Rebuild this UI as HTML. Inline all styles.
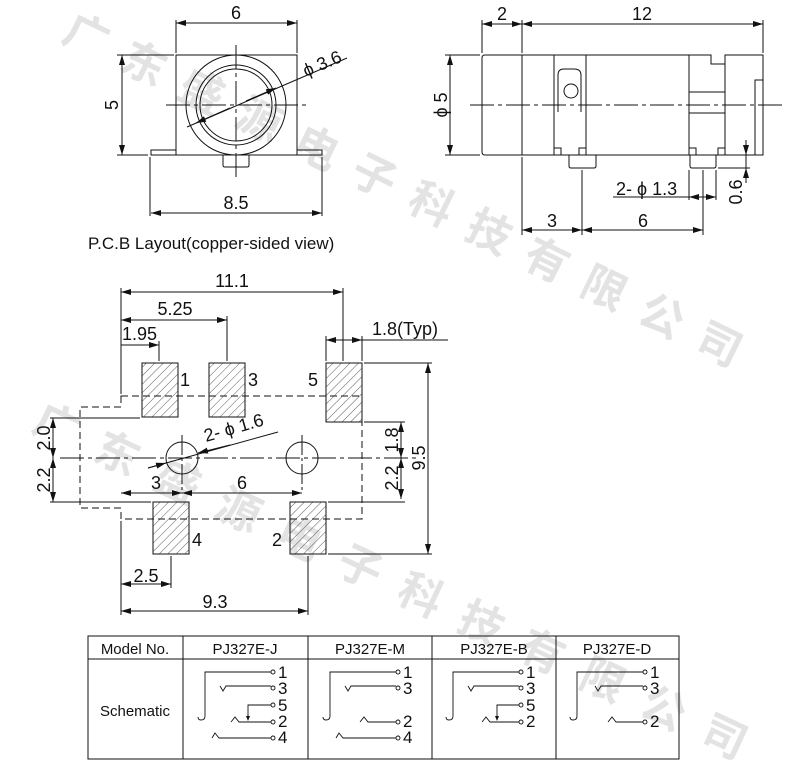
<!DOCTYPE html>
<html><head><meta charset="utf-8"><style>
html,body{margin:0;padding:0;background:#fff}
svg{display:block}
text{font-family:"Liberation Sans",Arial,sans-serif;fill:#111}
.wm text{font-family:"Noto Sans CJK SC","WenQuanYi Zen Hei",sans-serif;fill:#e3e3e3;font-size:44px;font-weight:bold}
</style></head><body>
<svg width="798" height="767" viewBox="0 0 798 767" xmlns="http://www.w3.org/2000/svg">
<defs>
<marker id="a" viewBox="0 0 10 6" refX="10" refY="3" markerWidth="10" markerHeight="6" orient="auto-start-reverse" markerUnits="userSpaceOnUse"><path d="M0,0L10,3L0,6z" fill="#111"/></marker>
<pattern id="h" patternUnits="userSpaceOnUse" width="6" height="6" patternTransform="rotate(45)"><line x1="0" y1="0" x2="0" y2="6" stroke="#333" stroke-width="0.8"/></pattern>
</defs>
<!-- watermark -->
<g class="wm">
<text transform="translate(60,40) rotate(26)" letter-spacing="20">广东盛源电子科技有限公司</text>
<text transform="translate(30,430) rotate(25)" letter-spacing="23">广东盛源电子科技有限公司</text>
</g>
<g fill="none" stroke="#111" stroke-width="1">
<!-- front view -->
<rect x="176" y="55" width="121" height="100"/>
<path d="M176,150H151V155H322V150H297"/>
<path d="M223,155V165Q223,167 225,167H247Q249,167 249,165V155"/>
<circle cx="236" cy="105" r="50"/>
<circle cx="236" cy="105" r="40"/>
<circle cx="236" cy="105" r="36"/>
<path d="M166,105H308M236,45V180" stroke-dasharray="24,4,4,4"/>
<path d="M176,53V20M297,53V20M150,157V216M322,157V216M117,55H174M117,155H148"/>
<line x1="176" y1="23" x2="297" y2="23" marker-start="url(#a)" marker-end="url(#a)"/>
<line x1="151" y1="213" x2="322" y2="213" marker-start="url(#a)" marker-end="url(#a)"/>
<line x1="122" y1="55" x2="122" y2="155" marker-start="url(#a)" marker-end="url(#a)"/>
<line x1="187" y1="127" x2="347" y2="58"/>
<line x1="230" y1="108" x2="196" y2="123" marker-end="url(#a)"/>
<line x1="246" y1="101" x2="276" y2="88" marker-end="url(#a)"/>
<!-- side view -->
<path d="M522,55H485Q482,55 482,58V152Q482,155 485,155H522"/>
<path d="M522,55H711V64H725V55H763V155H522Z"/>
<path d="M554,55V155M586,55V155M689,55V155M725,55V155M689,92H725M689,113H725"/>
<rect x="755" y="80" width="8" height="75"/>
<path d="M558,112V75Q558,69 564,69H574Q581,69 581,75V112"/>
<circle cx="571" cy="91" r="7"/>
<path d="M554,148H561V155M586,148H579V155M689,148H696V155M725,148H718V155"/>
<path d="M569,155V166Q569,168 571,168H594Q596,168 596,166V155"/>
<path d="M690,155V166Q690,168 692,168H714Q716,168 716,166V155"/>
<path d="M470,105H782" stroke-dasharray="24,4,4,4"/>
<path d="M482,20V53M522,20V53M763,20V53M522,157V235M582,170V235M703,170V235M689,170V200M716,170V200M445,55H480M445,155H480M718,168H750M727,155H750"/>
<line x1="482" y1="24" x2="522" y2="24" marker-start="url(#a)" marker-end="url(#a)"/>
<line x1="522" y1="24" x2="763" y2="24" marker-start="url(#a)" marker-end="url(#a)"/>
<line x1="450" y1="55" x2="450" y2="155" marker-start="url(#a)" marker-end="url(#a)"/>
<line x1="522" y1="230" x2="582" y2="230" marker-start="url(#a)" marker-end="url(#a)"/>
<line x1="582" y1="230" x2="703" y2="230" marker-start="url(#a)" marker-end="url(#a)"/>
<line x1="613" y1="197" x2="689" y2="197"/>
<line x1="689" y1="197" x2="716" y2="197" marker-start="url(#a)" marker-end="url(#a)"/>
<line x1="746" y1="140" x2="746" y2="155" marker-end="url(#a)"/>
<line x1="746" y1="183" x2="746" y2="168" marker-end="url(#a)"/>
<line x1="746" y1="155" x2="746" y2="168"/>
<!-- PCB -->
<path d="M121,396H362V519H121V508H80V407H121Z" stroke-dasharray="7,4"/>
<g fill="url(#h)">
<rect x="142" y="363" width="36" height="54"/>
<rect x="209" y="363" width="36" height="54"/>
<rect x="326" y="363" width="36" height="59"/>
<rect x="153" y="502" width="36" height="52"/>
<rect x="290" y="502" width="36" height="52"/>
</g>
<circle cx="182" cy="458" r="16"/>
<circle cx="302" cy="458" r="16"/>
<path d="M60,458H420" stroke-dasharray="24,4,4,4"/>
<path d="M182,435V490M302,435V490" stroke-dasharray="20,3,3,3"/>
<path d="M121,288V394M343,288V361M227,316V361M159,341V361M326,336V361M362,336V361M50,418H140M50,502H151M364,363H432M364,422H405M328,502H405M328,554H432M171,556V588M308,556V615M121,521V615"/>
<line x1="121" y1="292" x2="343" y2="292" marker-start="url(#a)" marker-end="url(#a)"/>
<line x1="121" y1="320" x2="227" y2="320" marker-start="url(#a)" marker-end="url(#a)"/>
<line x1="121" y1="345" x2="159" y2="345" marker-end="url(#a)"/>
<line x1="326" y1="340" x2="362" y2="340" marker-start="url(#a)" marker-end="url(#a)"/>
<line x1="362" y1="340" x2="448" y2="340"/>
<line x1="428" y1="363" x2="428" y2="554" marker-start="url(#a)" marker-end="url(#a)"/>
<line x1="401" y1="422" x2="401" y2="458" marker-start="url(#a)" marker-end="url(#a)"/>
<line x1="401" y1="458" x2="401" y2="499" marker-start="url(#a)" marker-end="url(#a)"/>
<line x1="53" y1="418" x2="53" y2="458" marker-start="url(#a)" marker-end="url(#a)"/>
<line x1="53" y1="458" x2="53" y2="502" marker-start="url(#a)" marker-end="url(#a)"/>
<line x1="121" y1="493" x2="182" y2="493" marker-start="url(#a)" marker-end="url(#a)"/>
<line x1="182" y1="493" x2="302" y2="493" marker-start="url(#a)" marker-end="url(#a)"/>
<line x1="121" y1="584" x2="171" y2="584" marker-start="url(#a)" marker-end="url(#a)"/>
<line x1="121" y1="611" x2="308" y2="611" marker-start="url(#a)" marker-end="url(#a)"/>
<line x1="148" y1="468" x2="278" y2="432"/>
<line x1="148" y1="468" x2="166" y2="463" marker-end="url(#a)"/>
<line x1="230" y1="445" x2="198" y2="453" marker-end="url(#a)"/>
<!-- table -->
<rect x="88" y="636" width="591" height="123"/>
<path d="M88,659H679M183,636V759M308,636V759M432,636V759M556,636V759"/>
</g>
<!-- labels -->
<g font-size="18">
<text x="236" y="19" text-anchor="middle">6</text>
<text x="236" y="209" text-anchor="middle">8.5</text>
<text transform="translate(118,105) rotate(-90)" text-anchor="middle">5</text>
<text transform="translate(306,77) rotate(-23)">ϕ 3.6</text>
<text x="502" y="20" text-anchor="middle">2</text>
<text x="642" y="20" text-anchor="middle">12</text>
<text transform="translate(447,105) rotate(-90)" text-anchor="middle">ϕ 5</text>
<text x="552" y="227" text-anchor="middle">3</text>
<text x="643" y="227" text-anchor="middle">6</text>
<text x="616" y="195">2- ϕ 1.3</text>
<text transform="translate(742,192) rotate(-90)" text-anchor="middle">0.6</text>
<text x="88" y="249" font-size="17">P.C.B Layout(copper-sided view)</text>
<text x="232" y="287" text-anchor="middle">11.1</text>
<text x="175" y="315" text-anchor="middle">5.25</text>
<text x="122" y="340">1.95</text>
<text x="372" y="335">1.8(Typ)</text>
<text x="180" y="386">1</text>
<text x="248" y="386">3</text>
<text x="308" y="386">5</text>
<text x="192" y="546">4</text>
<text x="272" y="546">2</text>
<text x="156" y="489" text-anchor="middle">3</text>
<text x="242" y="489" text-anchor="middle">6</text>
<text x="146" y="582" text-anchor="middle">2.5</text>
<text x="215" y="608" text-anchor="middle">9.3</text>
<text transform="translate(206,442) rotate(-16)">2- ϕ 1.6</text>
<text transform="translate(50,438) rotate(-90)" text-anchor="middle">2.0</text>
<text transform="translate(50,480) rotate(-90)" text-anchor="middle">2.2</text>
<text transform="translate(398,440) rotate(-90)" text-anchor="middle">1.8</text>
<text transform="translate(398,478) rotate(-90)" text-anchor="middle">2.2</text>
<text transform="translate(425,458) rotate(-90)" text-anchor="middle">9.5</text>
</g>
<g font-size="15">
<text x="135" y="654" text-anchor="middle">Model No.</text>
<text x="245" y="654" text-anchor="middle">PJ327E-J</text>
<text x="370" y="654" text-anchor="middle">PJ327E-M</text>
<text x="494" y="654" text-anchor="middle">PJ327E-B</text>
<text x="617" y="654" text-anchor="middle">PJ327E-D</text>
<text x="135" y="716" text-anchor="middle">Schematic</text>
</g>
<g fill="none" stroke="#111" stroke-width="0.9">
<path d="M271,672H205V716Q205,720 201,720Q198,720 198,717"/>
<path d="M220,686L223,691L226,686H271"/>
<path d="M271,705H248V718"/>
<path d="M231,722L235,717L239,722H271"/>
<path d="M212,738L215,733L219,738H271"/>
<path d="M396,672H330V716Q330,720 326,720Q323,720 323,717"/>
<path d="M345,686L348,691L351,686H396"/>
<path d="M360,722L364,717L368,722H396"/>
<path d="M336,738L339,733L343,738H396"/>
<path d="M519,672H453V716Q453,720 449,720Q446,720 446,717"/>
<path d="M468,686L471,691L474,686H519"/>
<path d="M519,705H497V718"/>
<path d="M482,722L486,717L490,722H519"/>
<path d="M643,672H577V716Q577,720 573,720Q570,720 570,717"/>
<path d="M595,686L598,691L601,686H643"/>
<path d="M608,722L612,717L616,722H643"/>
</g>
<g fill="#fff" stroke="#111" stroke-width="0.9">
<circle cx="273" cy="672" r="2"/><circle cx="273" cy="688" r="2"/><circle cx="273" cy="705" r="2"/><circle cx="273" cy="722" r="2"/><circle cx="273" cy="738" r="2"/>
<circle cx="398" cy="672" r="2"/><circle cx="398" cy="688" r="2"/><circle cx="398" cy="722" r="2"/><circle cx="398" cy="738" r="2"/>
<circle cx="521" cy="672" r="2"/><circle cx="521" cy="688" r="2"/><circle cx="521" cy="705" r="2"/><circle cx="521" cy="722" r="2"/>
<circle cx="645" cy="672" r="2"/><circle cx="645" cy="688" r="2"/><circle cx="645" cy="722" r="2"/>
</g>
<g fill="#111">
<path d="M246,716L250,716L248,721z"/><path d="M495,716L499,716L497,721z"/>
</g>
<g font-size="17">
<text x="278" y="678">1</text><text x="278" y="694">3</text><text x="278" y="711">5</text><text x="278" y="727">2</text><text x="278" y="743">4</text>
<text x="403" y="678">1</text><text x="403" y="694">3</text><text x="403" y="727">2</text><text x="403" y="743">4</text>
<text x="526" y="678">1</text><text x="526" y="694">3</text><text x="526" y="711">5</text><text x="526" y="727">2</text>
<text x="650" y="678">1</text><text x="650" y="694">3</text><text x="650" y="727">2</text>
</g>
</svg>
</body></html>
